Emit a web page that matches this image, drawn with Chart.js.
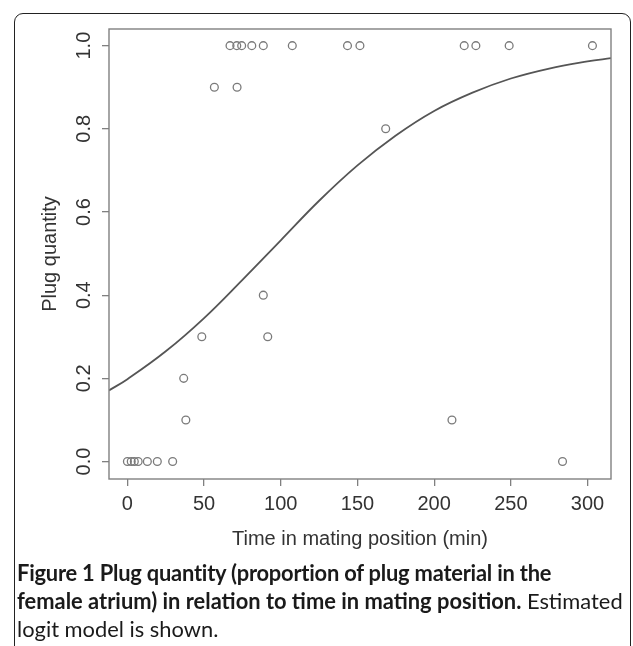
<!DOCTYPE html>
<html>
<head>
<meta charset="utf-8">
<script src="https://cdn.jsdelivr.net/npm/chart.js@4.4.1/dist/chart.umd.min.js"></script>
<style>
  html, body { margin: 0; padding: 0; background: #fff; }
  #page { position: relative; width: 633px; height: 646px; overflow: hidden; }
  #frame {
    position: absolute; left: 14px; top: 13px; width: 615px; height: 700px;
    border: 1.5px solid #222; border-radius: 9px;
  }
  #plot { position: absolute; left: 0; top: 0; width: 633px; height: 560px; }
  #cap {
    position: absolute; left: 17px; top: 559px;
    font-family: Lato, "Open Sans", sans-serif; font-size: 19px; line-height: 28px;
    color: #1a1a1a; white-space: nowrap;
  }
</style>
</head>
<body>
<div id="page">
  <div id="frame"></div>
  <div id="plot"><canvas id="chart" width="633" height="560"></canvas></div>
  <div id="cap">
    <b id="line1">Figure 1 Plug quantity (proportion of plug material in the</b><br>
    <span id="line2"><b>female atrium) in relation to time in mating position.</b> Estimated</span><br>
    logit model is shown.
  </div>
</div>
<script>
// observed points (time in mating position, plug quantity)
var timeMin = [0, 2.5, 4.5, 7, 13, 19.5, 29.5, 283.7,
               38.1, 211.6, 36.7, 48.5, 91.5, 88.6, 168.4, 56.7, 71.5,
               66.9, 71.3, 74.5, 81.1, 88.6, 107.5, 143.5, 151.6, 219.6, 227.2, 248.9, 303.2];
var plugQty = [0, 0, 0, 0, 0, 0, 0, 0,
               0.1, 0.1, 0.2, 0.3, 0.3, 0.4, 0.8, 0.9, 0.9,
               1, 1, 1, 1, 1, 1, 1, 1, 1, 1, 1, 1];

// fitted logit curve
var curveX = [-12, 0, 25, 50, 75, 100, 125, 150, 175, 200, 225, 250, 275, 300, 315.3];
var curveY = [0.171, 0.198, 0.265, 0.345, 0.437, 0.532, 0.627, 0.712, 0.784, 0.843, 0.887, 0.921, 0.945, 0.962, 0.970];

var xTicks = [0, 50, 100, 150, 200, 250, 300];
var yTicks = [0.0, 0.2, 0.4, 0.6, 0.8, 1.0];

// fit caption so lines span the same width as in the figure
var cap = document.getElementById('cap');
var w = document.getElementById('line2').getBoundingClientRect().width;
cap.style.fontSize = (19 * 606 / w) + 'px';
var l1 = document.getElementById('line1');
var w1 = l1.getBoundingClientRect().width;
l1.style.letterSpacing = ((535 - w1) / l1.textContent.length) + 'px';

var boxPlugin = {
    id: 'box',
    afterDatasetsDraw: function(chart) {
        var a = chart.chartArea, ctx = chart.ctx;
        ctx.save();
        ctx.strokeStyle = '#808080';
        ctx.lineWidth = 1.4;
        ctx.strokeRect(a.left, a.top, a.right - a.left, a.bottom - a.top);
        ctx.restore();
    }
};

var tickFont = { family: 'Liberation Sans, Arial, sans-serif', size: 20 };

new Chart(document.getElementById('chart').getContext('2d'), {
    type: 'scatter',
    data: {
        datasets: [{
            label: 'observed',
            data: timeMin.map(function(t, i) { return { x: t, y: plugQty[i] }; }),
            backgroundColor: 'rgba(0,0,0,0)',
            borderColor: '#7a7a7a',
            borderWidth: 1.3,
            pointRadius: 3.9,
            pointHoverRadius: 3.9
        }, {
            type: 'line',
            label: 'logit model',
            data: curveX.map(function(t, i) { return { x: t, y: curveY[i] }; }),
            borderColor: '#555',
            borderWidth: 1.8,
            pointRadius: 0,
            fill: false,
            tension: 0.4
        }]
    },
    options: {
        responsive: false,
        animation: false,
        events: [],
        layout: { padding: { left: 0, top: 29, right: 22, bottom: 0 } },
        plugins: { legend: { display: false }, tooltip: { enabled: false } },
        scales: {
            x: {
                type: 'linear',
                min: -12,
                max: 315.3,
                afterBuildTicks: function(scale) { scale.ticks = xTicks.map(function(v) { return { value: v }; }); },
                afterFit: function(scale) { scale.height = 81; },
                grid: { drawOnChartArea: false, tickLength: 7, color: '#808080', lineWidth: 1.3 },
                border: { display: false },
                ticks: { font: tickFont, color: '#333', padding: 6, maxRotation: 0 },
                title: {
                    display: true, text: 'Time in mating position (min)',
                    font: tickFont, color: '#333', padding: { top: 0, bottom: 9 }
                }
            },
            y: {
                type: 'linear',
                min: -0.042,
                max: 1.04,
                afterBuildTicks: function(scale) { scale.ticks = yTicks.map(function(v) { return { value: v }; }); },
                afterFit: function(scale) { scale.width = 109; },
                grid: { drawOnChartArea: false, tickLength: 7, color: '#808080', lineWidth: 1.3 },
                border: { display: false },
                ticks: {
                    font: tickFont, color: '#333', padding: 4,
                    minRotation: 90, maxRotation: 90, crossAlign: 'center',
                    callback: function(v) { return Number(v).toFixed(1); }
                },
                title: {
                    display: true, text: 'Plug quantity',
                    font: tickFont, color: '#333', padding: { top: 38, bottom: 0 }
                }
            }
        }
    },
    plugins: [boxPlugin]
});
</script>
</body>
</html>
